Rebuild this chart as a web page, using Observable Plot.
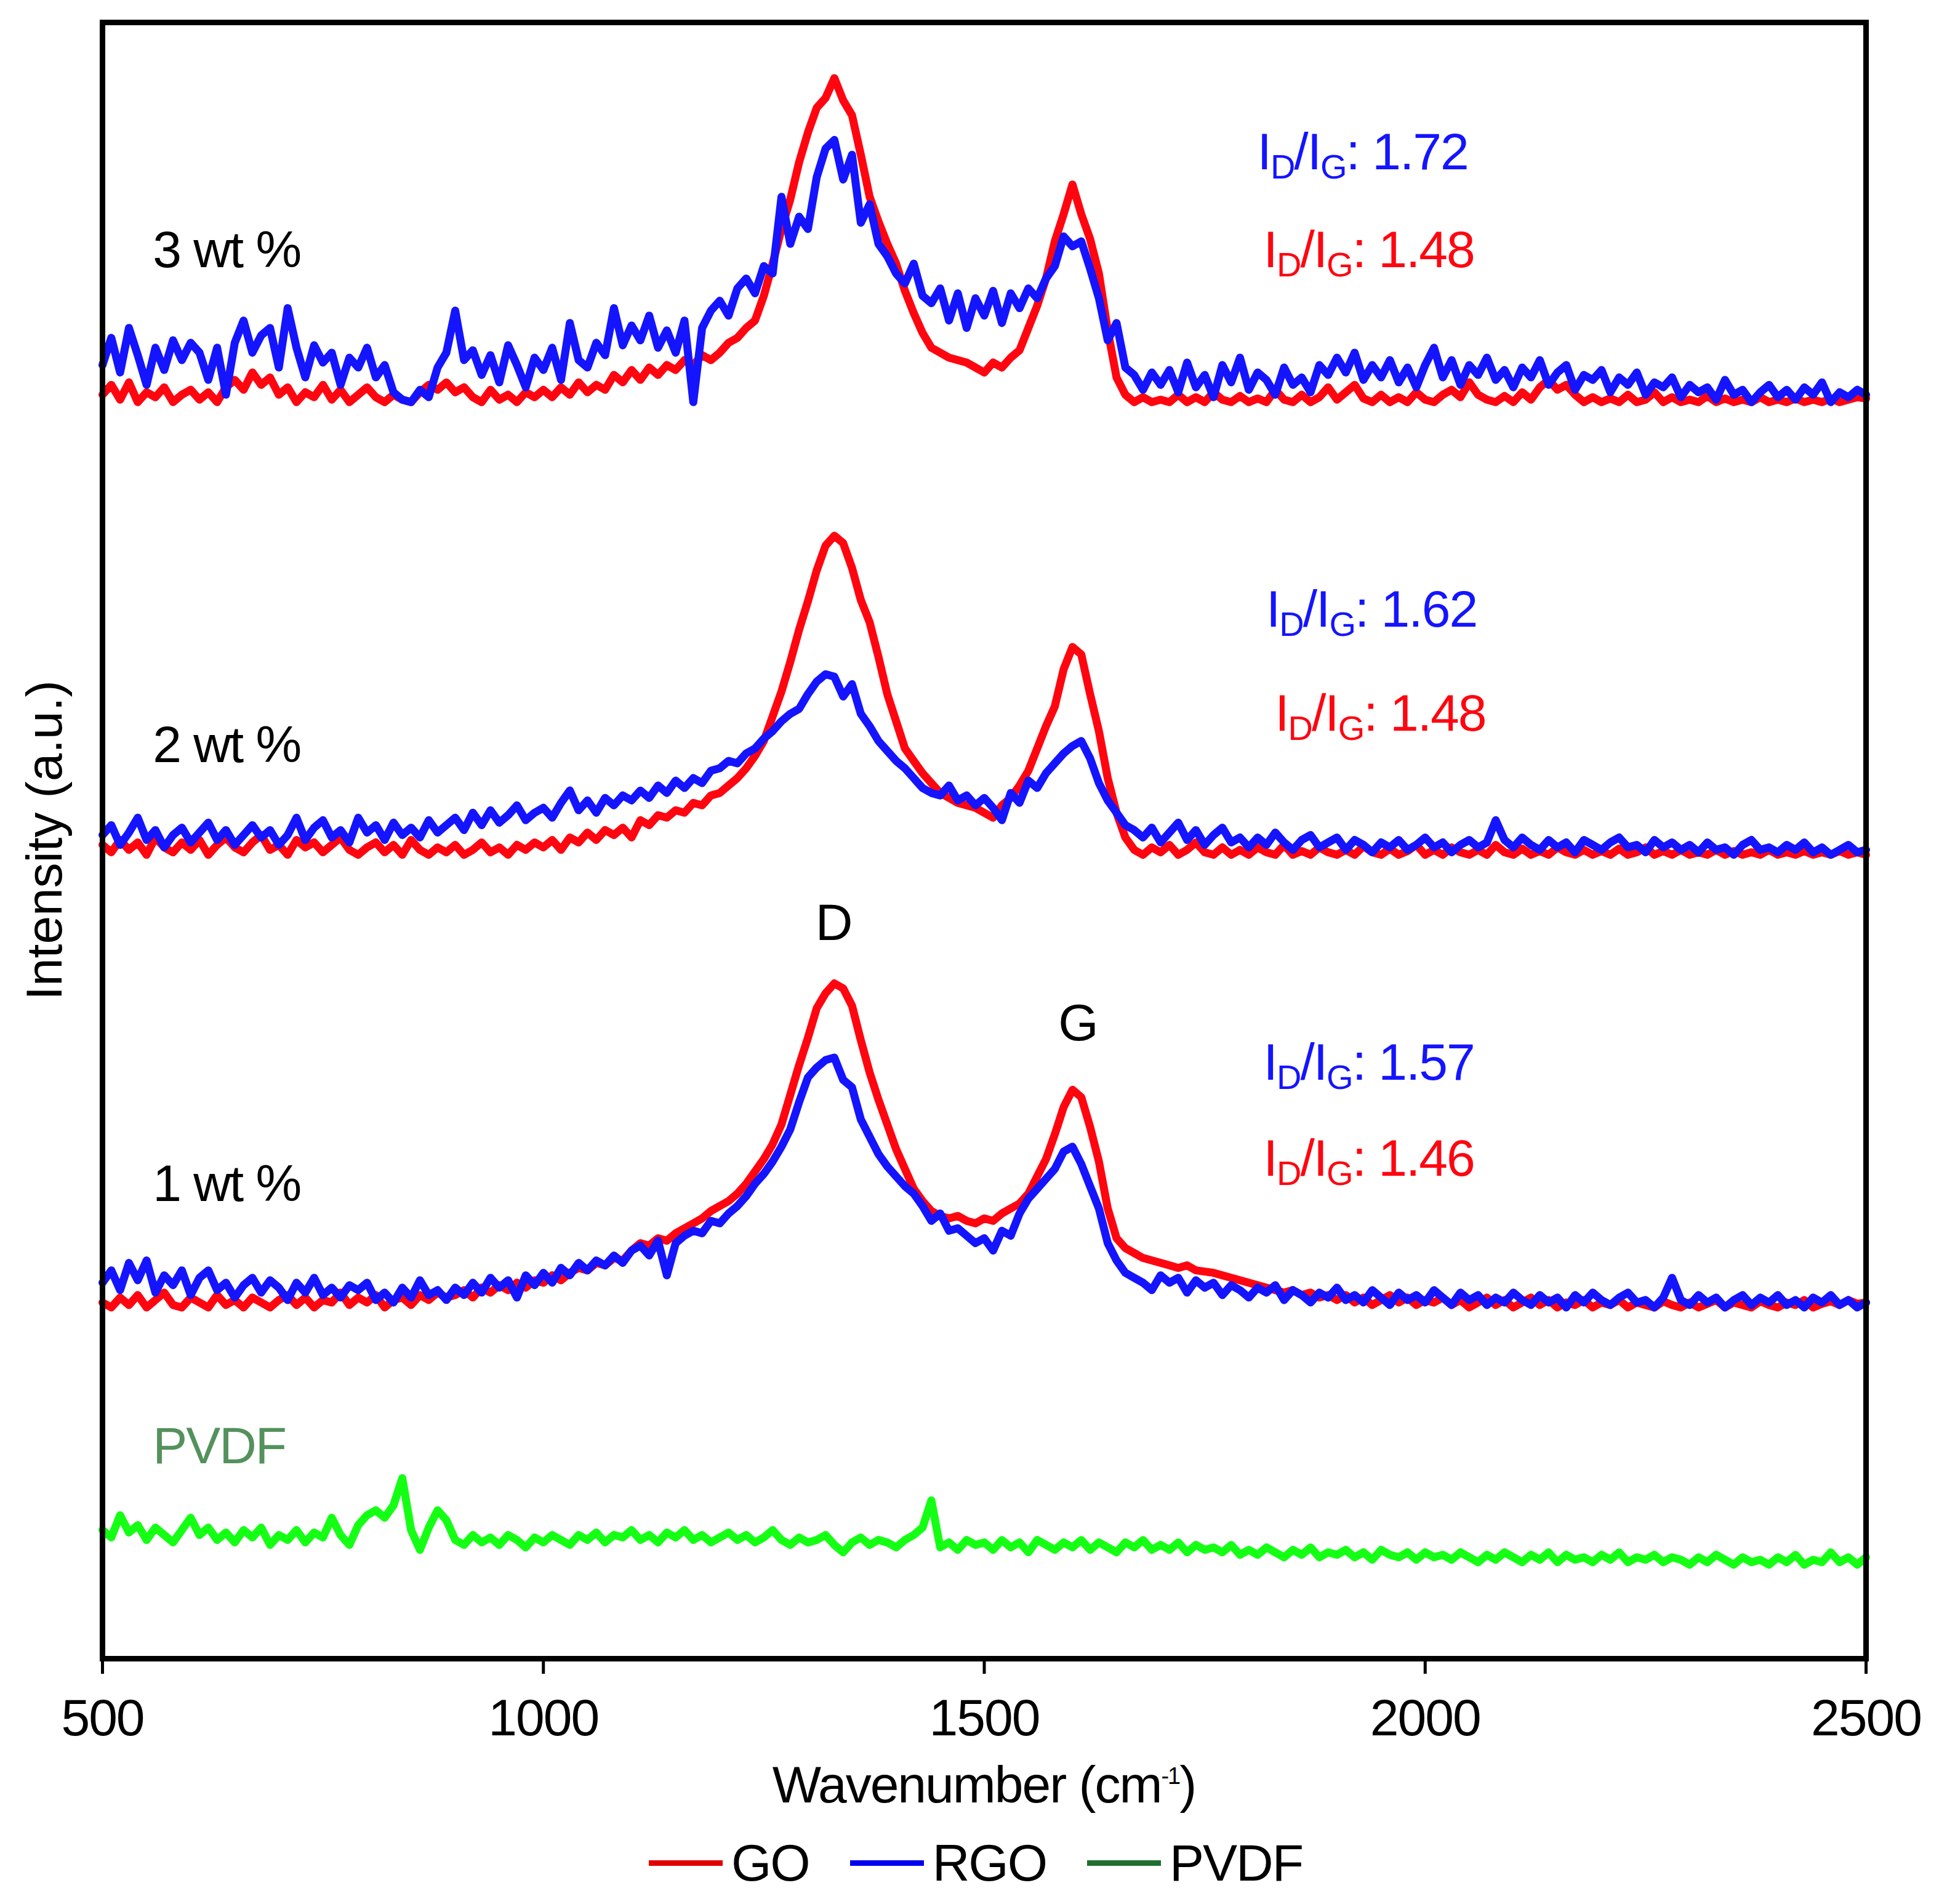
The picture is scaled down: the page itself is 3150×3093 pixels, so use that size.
<!DOCTYPE html>
<html>
<head>
<meta charset="utf-8">
<script src="https://cdn.jsdelivr.net/npm/d3@7"></script>
<script src="https://cdn.jsdelivr.net/npm/@observablehq/plot@0.6"></script>
<style>
  body { margin: 0; background: white; }
  g[aria-label="x-axis tick"], g[aria-label="x-axis"] .tick line { stroke-width: 5px; }
  #legend {
    display: flex; justify-content: center; align-items: center;
    height: 133px; padding-left: 20px;
    font-family: "Liberation Sans", Arial, sans-serif; font-size: 84px; letter-spacing: -2px;
  }
  #legend .item { display: flex; align-items: center; margin-right: 66px; }
  #legend .item:last-child { margin-right: 0; }
  #legend .swatch { display: inline-block; width: 120px; height: 9px; margin-right: 14px; }
</style>
</head>
<body>
<div id="chart"></div>
<div id="legend"></div>
<script>
// raman spectra, sampled every 10 cm-1 from 500 to 2500 (heights above each trace's own baseline, a.u.)
const wavenumber = d3.range(500, 2501, 10)

const go3 = [
  6,14,2,16,0,8,4,12,0,6, 10,2,8,0,12,18,10,24,14,20, 6,12,0,8,4,14,2,10,0,6,
  12,4,0,6,2,0,8,14,10,16, 8,12,4,0,10,2,6,0,8,4, 10,4,12,6,16,8,14,10,22,16,
  26,18,28,22,30,26,34,30,38,34, 40,48,52,60,66,86,112,140,164,194,
  218,238,246,262,244,232,200,166,146,128, 112,90,72,56,44,40,36,34,32,28,
  24,32,28,36,42,60,78,100,130,152, 176,152,132,104,58,20,6,0,4,0,
  2,0,6,0,4,0,8,2,0,5, 0,3,0,10,2,0,6,0,4,12, 2,8,14,3,0,6,0,4,0,8,
  2,0,6,10,4,16,6,2,0,5, 0,8,2,12,18,10,14,6,0,4, 0,3,0,6,0,2,8,0,4,0,
  2,0,5,0,3,0,2,0,4,0, 2,0,3,0,2,0,3,0,2,4, 3]
const rgo3 = [
  30,52,24,60,38,14,44,26,50,34, 48,40,18,44,6,48,66,40,54,60, 28,76,44,20,46,32,40,14,36,28,
  44,20,30,8,2,0,10,4,28,40, 74,34,42,22,38,16,46,30,12,36, 26,44,18,64,34,28,48,38,76,46,
  62,50,70,44,58,40,66,0,60,74, 82,70,92,100,88,110,104,166,128,150,
  140,182,205,212,180,200,145,160,128,118, 104,96,112,86,80,92,66,88,60,84,
  70,90,64,88,76,92,84,100,110,134, 126,130,108,84,50,64,28,22,10,24,
  14,26,8,32,12,22,4,30,16,36, 10,24,18,6,28,14,20,8,30,22, 36,24,40,18,30,20,34,16,28,12,
  30,44,20,34,14,30,22,36,18,26, 12,28,20,34,14,24,30,10,22,18, 26,8,20,14,24,6,16,12,20,4,
  14,8,12,2,18,6,10,0,8,14, 4,10,2,12,6,16,0,8,4,10, 6]
const go2 = [
  8,2,12,4,10,0,14,6,2,10, 4,12,0,8,14,6,2,10,16,4, 8,0,12,6,10,2,8,14,4,0,
  6,10,2,8,0,12,4,0,6,2, 8,0,4,10,2,6,0,8,4,10, 6,12,4,14,10,18,12,20,16,22,
  14,28,24,32,30,36,34,42,40,48, 50,56,62,70,80,92,112,132,156,182,
  205,230,250,258,252,232,206,188,160,130, 108,86,76,66,58,50,46,42,40,38,
  34,30,40,46,56,68,86,104,120,150, 168,162,130,100,62,34,14,4,0,6,
  2,8,0,4,10,2,0,6,0,4, 0,6,2,0,8,0,3,0,6,2, 0,4,0,7,2,0,5,0,3,8,
  0,4,0,6,2,0,4,0,8,2, 0,5,0,3,0,6,2,0,4,0, 3,0,5,0,2,6,0,3,0,4,
  0,2,0,4,0,3,0,2,0,4, 0,2,0,3,0,2,0,3,0,2, 0]
const rgo2 = [
  16,24,8,18,30,12,20,6,16,22, 10,18,26,12,20,8,16,24,14,20, 8,16,30,12,22,28,14,20,10,30,
  18,24,12,26,16,22,14,28,18,24, 30,20,34,24,36,26,32,40,28,34, 38,30,42,52,36,44,34,46,40,48,
  44,52,46,56,50,60,54,62,58,68, 70,76,74,82,86,94,100,108,114,118,
  130,140,146,144,128,138,114,104,92,84, 76,70,62,54,50,48,56,44,48,40,
  46,38,28,50,42,60,54,66,74,82, 88,92,78,58,44,34,24,20,14,22,
  10,18,26,12,20,8,16,22,10,14, 6,14,8,18,10,4,12,16,6,10, 14,4,12,8,2,10,6,12,4,8,
  14,6,10,2,8,12,6,10,28,12, 6,14,8,4,12,6,10,2,12,8, 4,10,14,6,8,2,12,6,10,4,
  8,2,10,4,6,0,8,12,4,6, 2,8,4,10,2,6,0,4,8,2, 4]
const go1 = [
  4,0,8,2,10,0,6,12,2,0, 8,4,0,10,2,6,0,8,4,0, 6,10,2,8,0,6,4,12,2,8,
  4,10,0,6,8,2,10,6,12,8, 10,14,8,16,12,18,14,20,16,22, 20,26,22,28,32,30,36,34,40,38,
  46,52,50,56,54,60,64,68,72,78, 82,86,92,100,110,120,132,148,172,196,
  218,242,254,262,258,244,216,190,168,148, 128,112,96,86,78,74,72,74,70,68,
  72,70,76,80,84,92,106,120,140,162, 176,170,146,118,80,56,48,44,40,38,
  36,34,32,34,30,29,28,26,24,22, 20,18,16,14,12,14,10,12,8,10, 6,10,4,8,2,6,10,4,8,2,
  6,4,8,2,6,0,4,8,2,6, 0,4,8,2,6,0,4,2,6,0, 4,2,6,0,4,2,0,5,2,0,
  4,0,3,6,0,4,2,0,5,2, 0,4,2,6,0,3,5,2,6,3, 4]
const rgo1 = [
  20,30,14,36,22,38,12,26,18,30, 10,24,30,14,20,8,18,24,12,22, 16,6,20,12,24,10,16,8,18,14,
  20,6,12,4,16,8,22,10,14,6, 16,10,20,12,24,16,22,8,26,18, 28,20,32,26,36,30,38,34,42,36,
  46,50,42,54,26,52,58,62,60,70, 68,76,82,90,100,108,118,130,144,166,
  186,194,200,202,184,178,152,138,124,114, 106,98,92,82,70,76,62,64,58,52,
  56,46,62,58,76,88,96,104,112,126, 130,116,98,80,52,38,28,24,20,14,
  26,20,24,12,22,16,20,10,18,14, 8,16,12,18,6,14,10,4,12,8, 16,6,10,4,14,8,2,12,6,10,
  4,14,8,2,12,6,10,2,8,4, 12,6,2,10,4,8,0,10,4,12, 6,2,8,12,4,6,0,8,24,6,
  2,10,4,8,0,6,10,2,8,4, 10,2,6,0,8,4,10,2,6,0, 4]
// pvdf film, absolute height above the bottom of the frame
const pvdf = [
  104,98,116,102,108,96,106,100,94,104, 114,100,106,96,102,94,104,98,106,92, 100,96,104,94,102,98,114,100,92,108,
  116,120,114,124,146,104,88,106,120,112, 96,92,100,94,98,92,100,96,90,98, 94,100,96,92,100,96,102,94,100,98,
  104,96,100,94,102,98,104,96,100,94, 98,102,96,100,94,98,104,96,92,98,
  94,96,100,92,86,94,98,92,96,94, 90,96,100,106,128,90,94,88,96,92,
  94,88,96,90,94,86,96,92,88,94, 90,96,88,94,90,86,94,90,96,88,
  92,88,94,86,92,88,90,86,92,84, 88,84,90,86,82,88,84,90,82,86, 84,88,82,86,80,88,84,82,86,80,
  86,82,84,80,86,82,78,84,80,86, 82,78,84,80,86,78,84,80,82,78, 84,80,86,78,82,80,84,78,82,80,
  76,82,78,84,80,76,82,78,80,76, 82,78,84,76,80,78,86,78,82,76, 82]

const loadings = ["3 wt %", "2 wt %", "1 wt %"]
const baselines = [1016, 650, 284]   // vertical offset of each stacked pair
const ratioRGO = ["1.72", "1.62", "1.57"]
const ratioGO = ["1.48", "1.48", "1.46"]
const peakNames = ["D", "G"]
const xTicks = [500, 1000, 1500, 2000, 2500]
const seriesNames = ["GO", "RGO", "PVDF"]

const red = "#ff0510", blue = "#1414ff", lime = "#14ff14"

// stack the spectra on their baselines
const goSets = [go3, go2, go1]
const rgoSets = [rgo3, rgo2, rgo1]
const goRows = [], rgoRows = []
loadings.forEach((name, i) => {
  wavenumber.forEach((wn, j) => {
    goRows.push({wn, y: baselines[i] + goSets[i][j], panel: name})
    rgoRows.push({wn, y: baselines[i] + rgoSets[i][j], panel: name})
  })
})
const pvdfRows = wavenumber.map((wn, j) => ({wn, y: pvdf[j]}))

const W = 3150, H = 2960
const lw = 13
const chart = Plot.plot({
  width: W,
  height: H,
  marginLeft: 166,
  marginRight: 119,
  marginTop: 36,
  marginBottom: 266,
  style: {
    fontFamily: '"Liberation Sans", Arial, sans-serif',
    fontSize: "84px",
    letterSpacing: "-2px",
    color: "black",
    background: "white",
    overflow: "visible"
  },
  x: {domain: [500, 2500], ticks: xTicks, tickFormat: "d", tickSize: 25, tickPadding: 40, label: null},
  y: {domain: [0, 1323], axis: null},
  marks: [
    Plot.line(goRows, {x: "wn", y: "y", z: "panel", stroke: red, strokeWidth: lw, strokeLinejoin: "round"}),
    Plot.line(rgoRows, {x: "wn", y: "y", z: "panel", stroke: blue, strokeWidth: lw, strokeLinejoin: "round"}),
    Plot.line(pvdfRows, {x: "wn", y: "y", stroke: lime, strokeWidth: lw, strokeLinejoin: "round"}),
    // loading labels at the left of each pair
    Plot.text(loadings, {x: 557, y: [1125, 725, 370], text: d => d, textAnchor: "start", lineAnchor: "bottom", fill: "black"}),
    Plot.text(["PVDF"], {x: 557, y: [158], text: d => d, textAnchor: "start", lineAnchor: "bottom", fill: "#54915c"}),
    // peak names above the 1 wt % pair
    Plot.text(peakNames, {x: [1329, 1606], y: [581, 500], text: d => d, textAnchor: "middle", lineAnchor: "bottom", fill: "black"}),
    Plot.frame({stroke: "black", strokeWidth: 9})
  ]
})

d3.select("#chart").append(() => chart)

const svg = d3.select(chart)
const sx = chart.scale("x"), sy = chart.scale("y")

// I_D/I_G ratios with subscripts
function ratioLabel(wn, v, value, color) {
  const t = svg.append("text")
    .attr("x", sx.apply(wn)).attr("y", sy.apply(v))
    .attr("text-anchor", "start")
    .attr("fill", color).attr("font-size", 84)
  t.append("tspan").text("I")
  t.append("tspan").attr("font-size", 56).attr("dy", 15).text("D")
  t.append("tspan").attr("dy", -15).text("/I")
  t.append("tspan").attr("font-size", 56).attr("dy", 15).text("G")
  t.append("tspan").attr("dy", -15).text(": " + value)
}
const ratioPos = [
  {xb: 1810, yb: 1204, xr: 1817, yr: 1125},
  {xb: 1820, yb: 834, xr: 1830, yr: 750},
  {xb: 1817, yb: 468, xr: 1817, yr: 390}
]
ratioPos.forEach((p, i) => {
  ratioLabel(p.xb, p.yb, ratioRGO[i], blue)
  ratioLabel(p.xr, p.yr, ratioGO[i], red)
})

// axis titles
const midX = (166 + W - 119) / 2
const xt = svg.append("text").attr("x", midX).attr("y", 2928)
  .attr("text-anchor", "middle").attr("fill", "black")
xt.append("tspan").text("Wavenumber (cm")
xt.append("tspan").attr("font-size", 38).attr("dy", -30).text("-1")
xt.append("tspan").attr("dy", 30).text(")")

svg.append("text")
  .attr("transform", `translate(100,${(36 + 2694) / 2}) rotate(-90)`)
  .attr("text-anchor", "middle").attr("fill", "black").attr("letter-spacing", 0)
  .attr("font-size", 82)
  .text("Intensity (a.u.)")

// legend below the chart
const legendColors = ["#e00000", "#0000ee", "#1f6f2f"]
const legend = d3.select("#legend")
seriesNames.forEach((name, i) => {
  const item = legend.append("span").attr("class", "item")
  item.append("span").attr("class", "swatch").style("background", legendColors[i])
  item.append("span").text(name)
})
</script>
</body>
</html>
